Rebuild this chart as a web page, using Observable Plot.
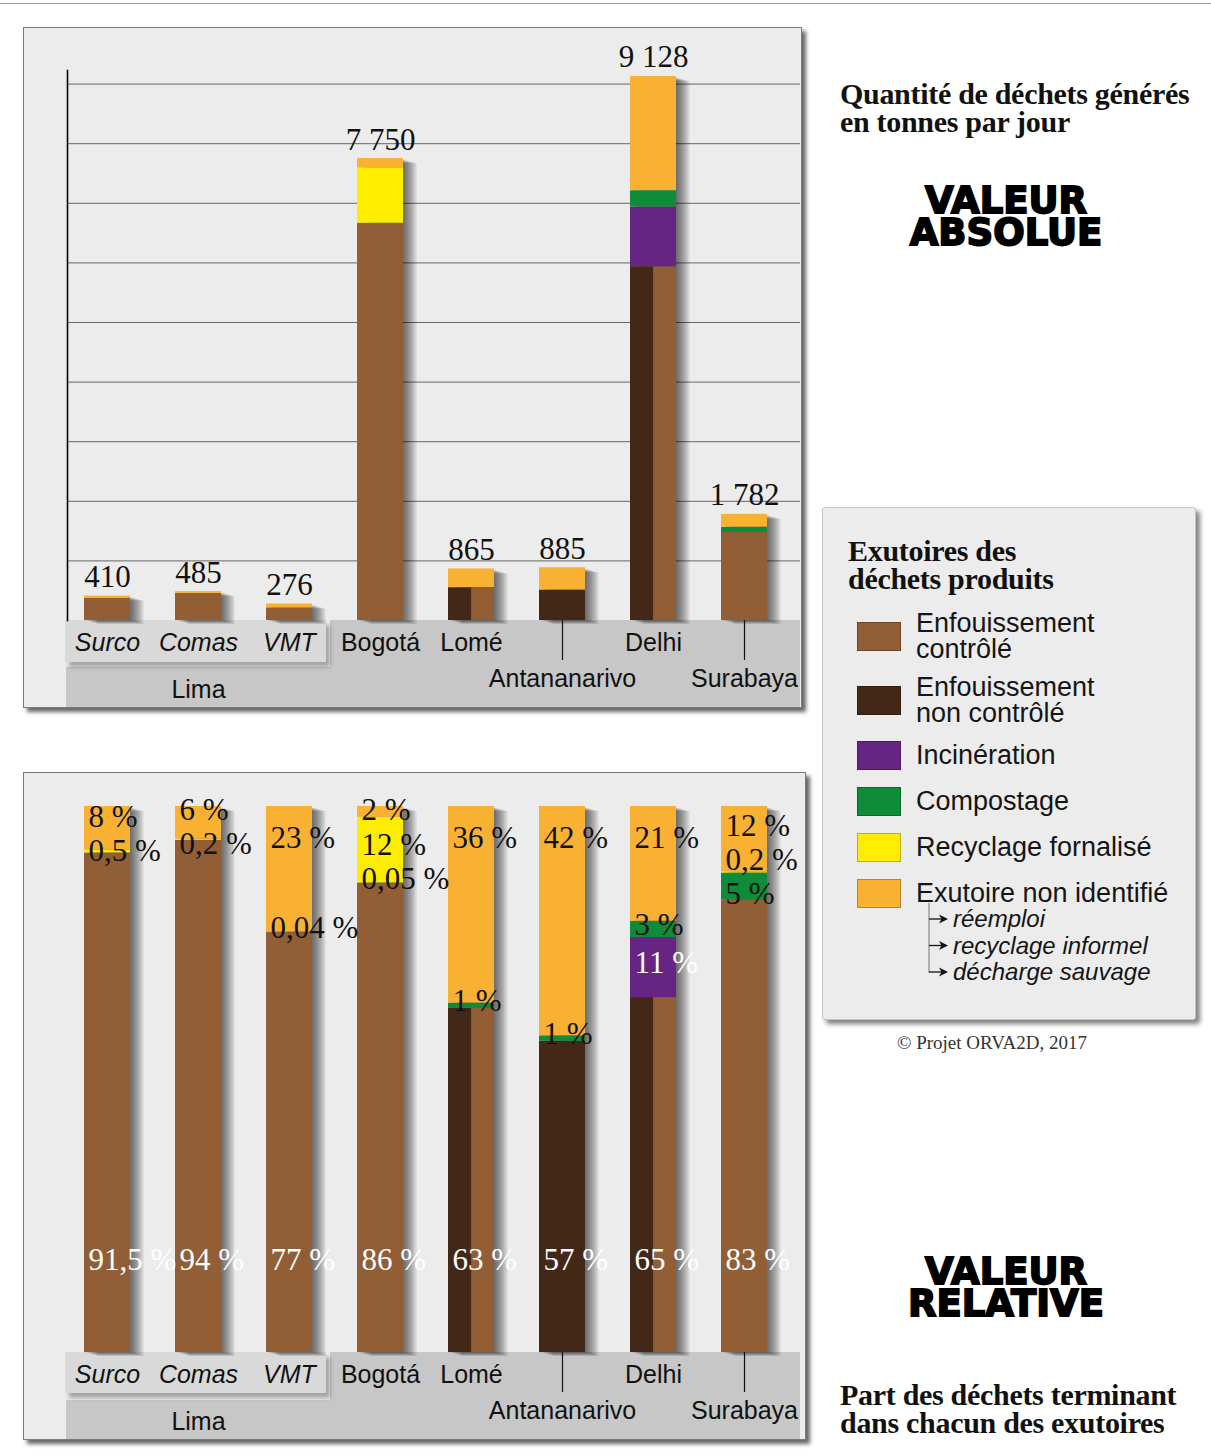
<!DOCTYPE html>
<html><head><meta charset="utf-8">
<script src="https://cdn.jsdelivr.net/npm/d3@7"></script>
<script src="https://cdn.jsdelivr.net/npm/@observablehq/plot@0.6"></script>
<style>
body{margin:0;background:#fff;}
#page{position:relative;width:1211px;height:1456px;overflow:hidden;font-family:"Liberation Sans",Arial,sans-serif;color:#111;}
.topline{position:absolute;left:0;top:3px;width:1211px;height:1px;background:#9a9a9a;}
.panel{position:absolute;box-sizing:border-box;background:#ececec;border:1px solid #7a7a7a;box-shadow:4px 4px 4px rgba(0,0,0,0.6);}
.band{position:absolute;background:#c7c7c7;}
.light{position:absolute;background:#d9d9d9;box-shadow:4px 5px 4px rgba(0,0,0,0.3);}
.chart{position:absolute;}
.serif{position:absolute;font-family:"Liberation Serif","Times New Roman",serif;font-weight:bold;font-size:30px;line-height:28px;letter-spacing:-0.3px;color:#111;white-space:nowrap;}
.big{position:absolute;left:880px;width:252px;text-align:center;font-family:"DejaVu Sans",sans-serif;font-weight:bold;font-size:37px;line-height:32px;-webkit-text-stroke:1.8px #000;color:#000;}
.legend{position:absolute;left:822px;top:507px;width:374px;height:513px;box-sizing:border-box;background:#ececec;border:1px solid #c4c4c4;border-radius:3px;box-shadow:4px 4px 5px rgba(0,0,0,0.5);}
.litems{position:absolute;left:34px;top:102px;display:flex;flex-direction:column;gap:12px;}
.litem{display:flex;align-items:center;}
.sw{width:44px;height:29px;box-sizing:border-box;border:1px solid rgba(0,0,0,0.25);flex:none;}
.lt{margin-left:15px;font-size:27px;line-height:26px;color:#151515;white-space:nowrap;}
.lt.one{line-height:34px;}
.subs{position:absolute;left:130px;top:398px;font-size:24px;line-height:26.5px;font-style:italic;color:#151515;}
.copy{position:absolute;left:897px;top:1032px;font-family:"Liberation Serif",serif;font-size:19px;line-height:22px;color:#333;white-space:nowrap;}
</style></head>
<body>
<div id="page">
  <div class="topline"></div>

  <div class="panel" style="left:23px;top:27px;width:779px;height:681px"></div>
  <div class="band" style="left:66px;top:667px;width:264px;height:40px"></div>
  <div class="band" style="left:330px;top:620px;width:470px;height:87px"></div>
  <div class="light" style="left:65px;top:620px;width:261px;height:42px"></div>
  <div id="chartTop" class="chart" style="left:23px;top:27px"></div>

  <div class="panel" style="left:23px;top:772px;width:783px;height:668px"></div>
  <div class="band" style="left:66px;top:1400px;width:264px;height:39px"></div>
  <div class="band" style="left:330px;top:1352px;width:470px;height:87px"></div>
  <div class="light" style="left:65px;top:1352px;width:261px;height:41px"></div>
  <div id="chartBottom" class="chart" style="left:23px;top:772px"></div>

  <div class="serif" style="left:840px;top:80px">Quantité de déchets générés<br>en tonnes par jour</div>
  <div class="big" style="top:185px">VALEUR<br>ABSOLUE</div>

  <div class="legend">
    <div class="serif" style="left:25px;top:29px">Exutoires des<br>déchets produits</div>
    <div class="litems" id="litems"></div>
    <svg style="position:absolute;left:100px;top:395px" width="40" height="80" id="tree"></svg>
    <div class="subs" id="subs"></div>
  </div>
  <div class="copy">© Projet ORVA2D, 2017</div>

  <div class="big" style="top:1256px">VALEUR<br>RELATIVE</div>
  <div class="serif" style="left:840px;top:1381px">Part des déchets terminant<br>dans chacun des exutoires</div>
</div>
<script>
// ---------------- DATA ----------------
const cities = ["Surco", "Comas", "VMT", "Bogotá", "Lomé", "Antananarivo", "Delhi", "Surabaya"];
const totals = [410, 485, 276, 7750, 865, 885, 9128, 1782]; // tonnes par jour
const categories = ["Enfouissement contrôlé", "Enfouissement non contrôlé", "Incinération", "Compostage", "Recyclage fornalisé", "Exutoire non identifié"];
const colors = ["#925e36", "#432818", "#662483", "#0e8c39", "#ffed00", "#f8b133"];
const subItems = ["réemploi", "recyclage informel", "décharge sauvage"];
// parts (%) par exutoire et par ville
const mixte        = [0, 0, 0, 0, 63, 0, 65, 0];      // enfouissement contrôlé + non contrôlé (non distingués)
const controle     = [91.5, 94, 77, 86, 0, 0, 0, 83];
const nonControle  = [0, 0, 0, 0, 0, 57, 0, 0];
const incineration = [0, 0, 0, 0, 0, 0, 11, 0];
const compostage   = [0, 0, 0.04, 0.05, 1, 1, 3, 5];
const recyclage    = [0.5, 0.2, 0, 12, 0, 0, 0, 0.2];
const nonIdentifie = [8, 6, 23, 2, 36, 42, 21, 12];
const limaDistricts = ["Surco", "Comas", "VMT"];
const secondRow = ["Antananarivo", "Surabaya"];
const gridValues = [1000, 2000, 3000, 4000, 5000, 6000, 7000, 8000, 9000];

// ---------------- BUILD ----------------
const keys = ["mixte", "ctrl", "nonctrl", "inc", "comp", "rec", "ni"];
const series = {mixte, ctrl: controle, nonctrl: nonControle, inc: incineration, comp: compostage, rec: recyclage, ni: nonIdentifie};
const keyColor = {mixte: colors[0], ctrl: colors[0], nonctrl: colors[1], inc: colors[2], comp: colors[3], rec: colors[4], ni: colors[5]};

const rows = [];
cities.forEach((city, i) => {
  const sum = d3.sum(keys, k => series[k][i]);
  let acc = 0;
  for (const k of keys) {
    const v = series[k][i];
    if (!v) continue;
    const p1 = acc / sum * 100; acc += v; const p2 = acc / sum * 100;
    rows.push({city, key: k, pct: v, p1, p2, t1: p1 / 100 * totals[i], t2: p2 / 100 * totals[i]});
  }
});
const totalRows = cities.map((city, i) => ({city, total: totals[i], full: 100}));

const loc = d3.formatLocale({decimal: ",", thousands: " ", grouping: [3], currency: ["", ""]});
const fmtTotal = loc.format(",d");
const fmtNum = loc.format("~g");
const fmtPct = v => fmtNum(v) + " %";

const frameW = 733;
const xOpts = {domain: cities, paddingInner: 0.5, paddingOuter: 0.25, align: 0.33};
const bandStep = frameW / (cities.length - 0.5 + 0.5);
const bw = bandStep * 0.5;
const colorOpts = {domain: keys, range: keys.map(k => keyColor[k])};
const serifFont = "Liberation Serif, Times New Roman, serif";
const sansFont = "Liberation Sans, Arial, sans-serif";
const firstRow = cities.filter(c => !secondRow.includes(c));
const firstRowLima = firstRow.filter(c => limaDistricts.includes(c));
const firstRowOther = firstRow.filter(c => !limaDistricts.includes(c));

function labelMarks() {
  const common = {x: d => d, text: d => d, frameAnchor: "bottom", lineAnchor: "bottom", fontSize: 25, fontFamily: sansFont, fill: "#111"};
  return [
    Plot.text(firstRowLima, {...common, dy: 30, fontStyle: "italic"}),
    Plot.text(firstRowOther, {...common, dy: 30}),
    Plot.text(secondRow, {...common, dy: 66}),
    Plot.text([limaDistricts[Math.floor(limaDistricts.length / 2)]], {...common, text: () => "Lima", dy: 77}),
    Plot.axisX({ticks: secondRow, tickSize: 40, tickFormat: () => "", label: null, stroke: "#111", strokeWidth: 1.2})
  ];
}

// soft shadow to the right of each bar, built from a few offset translucent copies
function shadowMarks(yField) {
  return [1, 2, 3, 4, 5, 6, 7, 8].map(k =>
    Plot.barY(totalRows, {x: "city", y: yField, fill: "#000", fillOpacity: 0.085, dx: 1.7 * k, dy: 0.5 * k, insetTop: 1})
  );
}

// ---------------- TOP: valeur absolue ----------------
const absChart = Plot.plot({
  width: 779, height: 681,
  marginTop: 43, marginBottom: 88, marginLeft: 44, marginRight: 2,
  x: {...xOpts, axis: null},
  y: {domain: [0, 9228], axis: null},
  color: colorOpts,
  style: {background: "transparent", overflow: "visible"},
  marks: [
    Plot.ruleY(gridValues, {stroke: "#666", strokeWidth: 1}),
    Plot.frame({anchor: "left", stroke: "#000", strokeWidth: 1.6}),
    ...shadowMarks("total"),
    Plot.barY(rows, {x: "city", y1: "t1", y2: "t2", fill: "key"}),
    Plot.barY(rows.filter(r => r.key === "mixte"), {x: "city", y1: "t1", y2: "t2", fill: keyColor.nonctrl, insetRight: bw / 2}),
    Plot.text(totalRows, {x: "city", y: "total", text: d => fmtTotal(d.total), lineAnchor: "bottom", dy: -9, fontSize: 31, fontFamily: serifFont, fill: "#111"}),
    ...labelMarks()
  ]
});
document.getElementById("chartTop").append(absChart);

// ---------------- BOTTOM: valeur relative ----------------
const pxPerPct = 546 / 100;
const minGap = 34 / pxPerPct;
const pctLabels = [];
cities.forEach(city => {
  const segs = rows.filter(r => r.city === city);
  const base = segs[0];
  pctLabels.push({city, y: 17, text: fmtPct(base.pct), white: true});
  const others = segs.slice(1).map(s => ({
    city,
    y: s.key === "ni" ? s.p2 - Math.min(32 / pxPerPct, (s.p2 - s.p1) * 0.35) : (s.p1 + s.p2) / 2 + 0.8,
    text: fmtPct(s.pct),
    white: s.key === "inc"
  })).sort((a, b) => b.y - a.y);
  for (let it = 0; it < 60; it++) {
    for (let k = 1; k < others.length; k++) {
      const gap = others[k - 1].y - others[k].y;
      if (gap < minGap) { const d = (minGap - gap) / 2; others[k - 1].y += d; others[k].y -= d; }
    }
  }
  pctLabels.push(...others);
});

const relChart = Plot.plot({
  width: 783, height: 668,
  marginTop: 34, marginBottom: 88, marginLeft: 44, marginRight: 6,
  x: {...xOpts, axis: null},
  y: {domain: [0, 100], axis: null},
  color: colorOpts,
  style: {background: "transparent", overflow: "visible"},
  marks: [
    ...shadowMarks("full"),
    Plot.barY(rows, {x: "city", y1: "p1", y2: "p2", fill: "key"}),
    Plot.barY(rows.filter(r => r.key === "mixte"), {x: "city", y1: "p1", y2: "p2", fill: keyColor.nonctrl, insetRight: bw / 2}),
    Plot.text(pctLabels, {x: "city", y: "y", text: "text", textAnchor: "start", lineAnchor: "middle", dx: -bw / 2 + 4, fontSize: 31, fontFamily: serifFont, fill: d => d.white ? "#fff" : "#111"}),
    ...labelMarks()
  ]
});
document.getElementById("chartBottom").append(relChart);

// ---------------- LEGEND ----------------
const litems = document.getElementById("litems");
categories.forEach((c, i) => {
  const row = document.createElement("div");
  row.className = "litem";
  const sw = document.createElement("div");
  sw.className = "sw";
  sw.style.background = colors[i];
  const t = document.createElement("div");
  const two = /^Enfouissement /.test(c);
  t.className = "lt" + (two ? "" : " one");
  t.innerHTML = two ? c.replace(/^Enfouissement /, "Enfouissement<br>") : c;
  row.append(sw, t);
  litems.append(row);
});
const subs = document.getElementById("subs");
subs.innerHTML = subItems.map(s => `<div>${s}</div>`).join("");
const tree = d3.select("#tree");
const lh = 26.5;
tree.append("line").attr("x1", 6).attr("x2", 6).attr("y1", 0).attr("y2", 16 + lh * (subItems.length - 1) + 0.5).attr("stroke", "#777").attr("stroke-width", 1);
subItems.forEach((s, i) => {
  const y = 16 + lh * i;
  tree.append("line").attr("x1", 6).attr("x2", 22).attr("y1", y).attr("y2", y).attr("stroke", "#111").attr("stroke-width", 1.3);
  tree.append("path").attr("d", `M16,${y - 4.5} L25,${y} L16,${y + 4.5} L18.5,${y} Z`).attr("fill", "#111");
});
</script>
</body></html>
